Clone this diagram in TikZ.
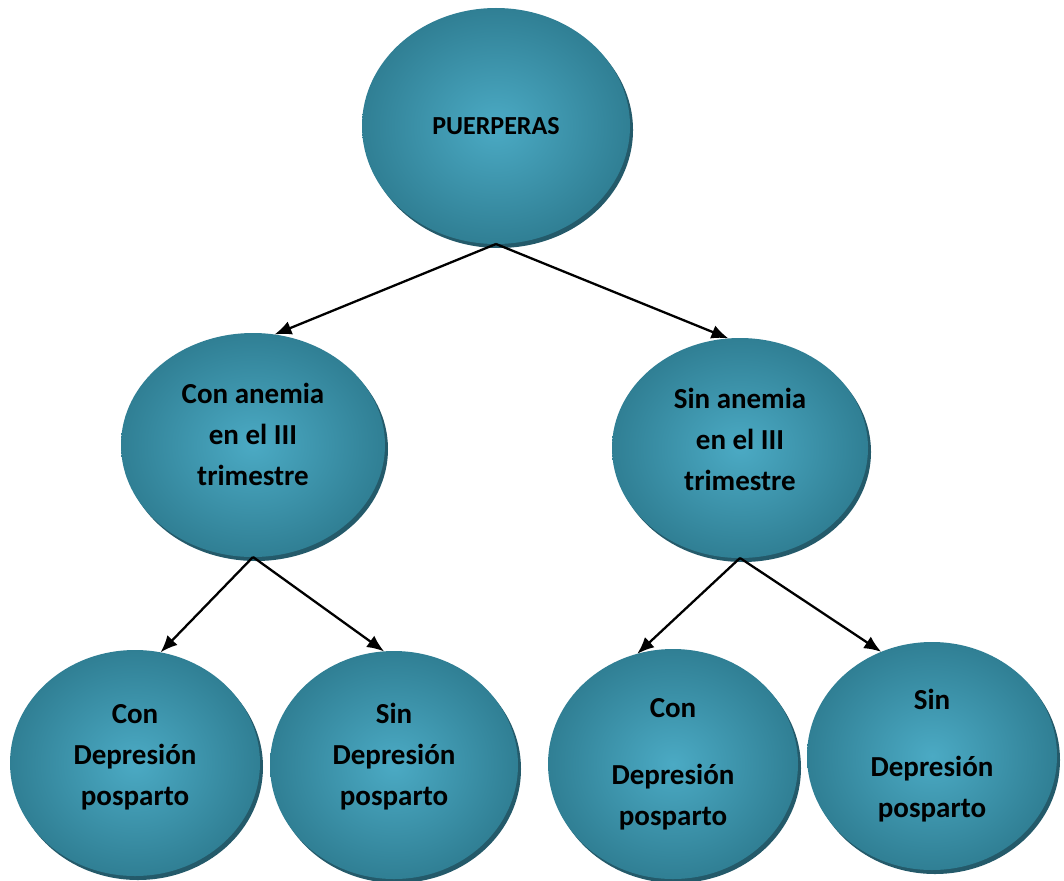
\documentclass[tikz,border=0pt]{standalone}
\usepackage{fontspec}
\setmainfont{Carlito}
\usepackage{xcolor}
\usepackage{tikz}
\usetikzlibrary{shapes,arrows.meta,shadows}
\definecolor{tealin}{HTML}{4BAAC4}
\definecolor{tealout}{HTML}{307F94}
\definecolor{tealshadow}{HTML}{245A6A}

\begin{document}
\begin{tikzpicture}[x=1pt,y=-1pt,every node/.style={outer sep=0pt,inner sep=0pt}]
\tikzstyle{bubble}=[ellipse,shading=radial,inner color=tealin,outer color=tealout,
drop shadow={shadow xshift=3pt,shadow yshift=-4pt,fill=tealshadow,opacity=1},
align=center,font=\fontsize{29}{41}\selectfont\bfseries]
\tikzstyle{link}=[line width=2.3pt,-{Latex[length=17pt,width=14pt]}]
\useasboundingbox[fill=white] (0,0) rectangle (1064,880);
\node (puer) [bubble,minimum width=268pt,minimum height=236pt,
font=\fontsize{26}{38}\selectfont\bfseries] at (496,126) {PUERPERAS};
\node (conan) [bubble,minimum width=264pt,minimum height=224pt,text depth=21pt] at (253,445)
{Con anemia\\en el III\\trimestre};
\node (sinan) [bubble,minimum width=256pt,minimum height=220pt,text depth=18pt] at (740,448)
{Sin anemia\\en el III\\trimestre};
\node (concd) [bubble,minimum width=250pt,minimum height=226pt,text depth=16pt] at (135,763)
{Con\\Depresión\\posparto};
\node (consd) [bubble,minimum width=248pt,minimum height=228pt,text depth=21pt] at (394,765)
{Sin\\Depresión\\posparto};
\node (sincd) [bubble,minimum width=250pt,minimum height=230pt] at (673,764)
{Con\\[26pt]Depresión\\posparto};
\node (sinsd) [bubble,minimum width=250pt,minimum height=228pt] at (932,756)
{Sin\\[26pt]Depresión\\posparto};
\draw [link] (puer.south) -- (conan.79);
\draw [link] (puer.south) -- (sinan.96);
\draw [link] (conan.south) -- (concd.77);
\draw [link] (conan.south) -- (consd.95);
\draw [link] (sinan.south) -- (sincd.108);
\draw [link] (sinan.south) -- (sinsd.116);
\end{tikzpicture}
\end{document}
